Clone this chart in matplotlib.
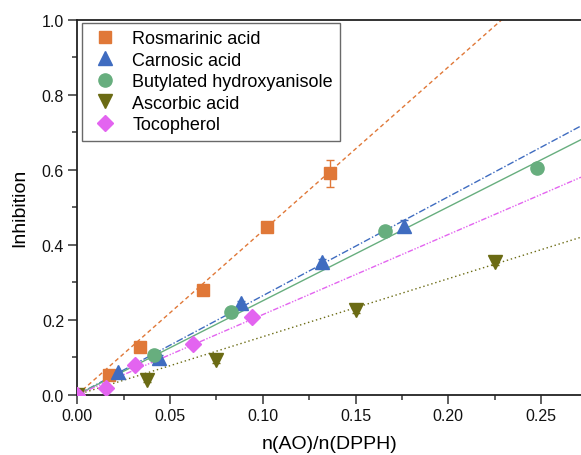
import numpy as np
import matplotlib
matplotlib.use("Agg")
import matplotlib.pyplot as plt
from matplotlib.ticker import MultipleLocator, AutoMinorLocator

plt.rcParams['font.family'] = ['Liberation Sans', 'DejaVu Sans']

# ---- data ----
names = ["Rosmarinic acid", "Carnosic acid", "Butylated hydroxyanisole",
         "Ascorbic acid", "Tocopherol"]

ros_x = [0.0, 0.017, 0.034, 0.068, 0.102, 0.136]
ros_y = [0.0, 0.052, 0.127, 0.280, 0.447, 0.591]
ros_e = [0.0, 0.004, 0.006, 0.006, 0.006, 0.036]

car_x = [0.0, 0.022, 0.044, 0.088, 0.132, 0.176]
car_y = [0.0, 0.060, 0.097, 0.245, 0.355, 0.451]
car_e = [0.0, 0.004, 0.008, 0.006, 0.006, 0.015]

bha_x = [0.0, 0.0415, 0.083, 0.166, 0.248]
bha_y = [0.0, 0.107, 0.221, 0.436, 0.604]
bha_e = [0.0, 0.004, 0.004, 0.005, 0.005]

asc_x = [0.0, 0.0375, 0.075, 0.150, 0.225]
asc_y = [0.0, 0.040, 0.092, 0.227, 0.355]
asc_e = [0.0, 0.005, 0.008, 0.009, 0.010]

toc_x = [0.0, 0.0156, 0.0312, 0.0625, 0.094]
toc_y = [0.0, 0.017, 0.080, 0.136, 0.208]
toc_e = [0.0, 0.003, 0.004, 0.004, 0.004]

# slopes of the linear fits (through origin)
fit_slopes = [4.37, 2.64, 2.505, 1.547, 2.136]

colors = ["#E07838", "#3F6CC0", "#67AE7E", "#6B6B14", "#E364F0"]
markers = ["s", "^", "o", "v", "D"]
msizes = [8.5, 10, 9.5, 10, 8]
line_styles = [(0, (3, 2.2)), (0, (5, 1.5, 1, 1.5)), "-", (0, (1, 2)),
               (0, (4, 1.2, 1, 1.2, 1, 1.2))]

series = [(ros_x, ros_y, ros_e), (car_x, car_y, car_e), (bha_x, bha_y, bha_e),
          (asc_x, asc_y, asc_e), (toc_x, toc_y, toc_e)]

W, H = 581, 456
fig = plt.figure(figsize=(W / 100, H / 100), dpi=100)
x0, y0, x1, y1 = 77.3, 395.7, 581, 20.7
ax = fig.add_axes([x0 / W, 1 - y0 / H, (x1 - x0) / W, (y0 - y1) / H])

xmax = 0.2715
xl = np.array([0.0, xmax])
handles = []
for (xs, ys, es), c, m, ms, ls, k, nm in zip(series, colors, markers, msizes,
                                             line_styles, fit_slopes, names):
    ax.plot(xl, k * xl, color=c, lw=1.0, ls=ls, zorder=2)
    ax.errorbar(xs, ys, yerr=es, fmt="none", ecolor=c, elinewidth=1.0,
                capsize=3, capthick=1.0, zorder=3)
    h, = ax.plot(xs, ys, ls="none", marker=m, ms=ms, color=c, mec=c,
                 zorder=4, label=nm)
    handles.append(h)

ax.set_xlim(0, xmax)
ax.set_ylim(0, 1.0)
ax.xaxis.set_major_locator(MultipleLocator(0.05))
ax.xaxis.set_minor_locator(AutoMinorLocator(2))
ax.yaxis.set_major_locator(MultipleLocator(0.2))
ax.yaxis.set_minor_locator(AutoMinorLocator(2))
ax.xaxis.set_major_formatter(matplotlib.ticker.FormatStrFormatter("%.2f"))
ax.yaxis.set_major_formatter(matplotlib.ticker.FormatStrFormatter("%.1f"))

for s in ["left", "bottom", "top"]:
    ax.spines[s].set_linewidth(1.3)
    ax.spines[s].set_color("#222222")
ax.spines["right"].set_visible(False)

ax.tick_params(which="both", direction="out", top=False, right=False,
               width=1.1, color="#333333", labelsize=11.5, labelcolor="#111111")
ax.tick_params(which="major", length=6.5, pad=3)
ax.tick_params(which="minor", length=3.5)

ax.set_xlabel("n(AO)/n(DPPH)", fontsize=14, labelpad=8.5)
ax.set_ylabel("Inhibition", fontsize=14, labelpad=10)

leg = ax.legend(handles=handles, loc="upper left",
                bbox_to_anchor=(82 / W, 1 - 24 / H),
                bbox_transform=fig.transFigure, fontsize=13,
                frameon=True, fancybox=False, borderaxespad=0,
                handlelength=1.8, handletextpad=0.58, labelspacing=0.25,
                borderpad=0.4, numpoints=1)
leg.get_frame().set_edgecolor("#444444")
leg.get_frame().set_linewidth(1.0)

fig.savefig("out.png", dpi=100)
